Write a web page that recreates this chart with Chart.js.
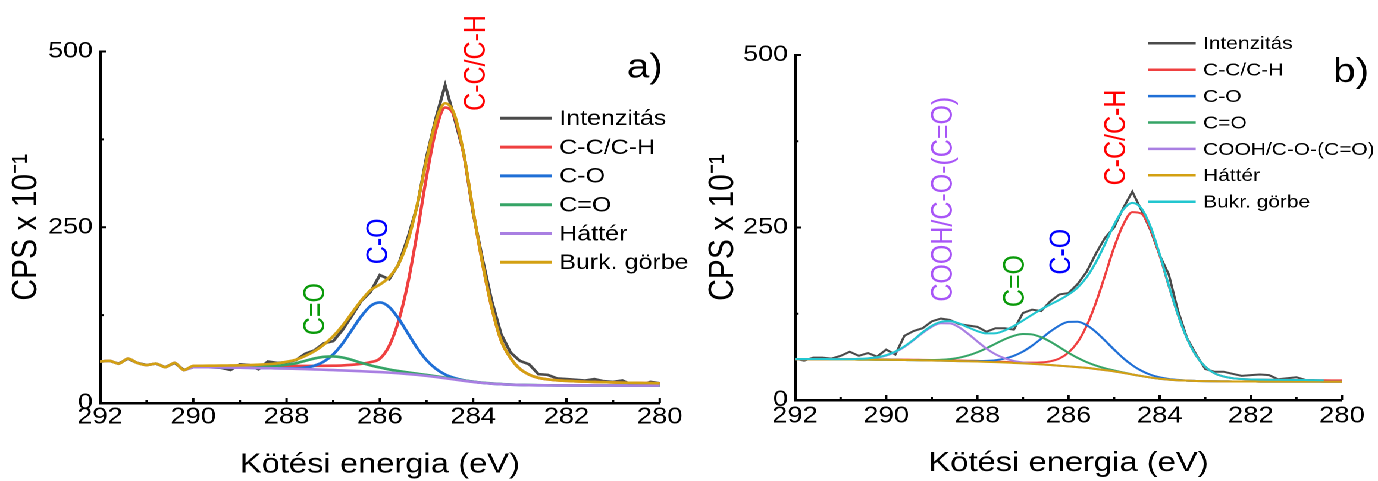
<!DOCTYPE html>
<html>
<head>
<meta charset="utf-8">
<script src="https://cdn.jsdelivr.net/npm/chart.js@4.4.1/dist/chart.umd.min.js"></script>
<style>
  html, body { margin: 0; padding: 0; background: #fff; overflow: hidden; }
  /* the reference figure is stretched sideways, so the whole stage is too */
  #stage { position: absolute; left: 0; top: 0; width: 1158px; height: 481px; transform: scaleX(1.19); transform-origin: 0 0; }
  .panel { position: absolute; top: 0; width: 579px; height: 481px; }
  #pa { left: 0; }
  #pb { left: 579px; }
</style>
</head>
<body>
<div id="stage">
  <div class="panel" id="pa"><canvas id="chartA"></canvas></div>
  <div class="panel" id="pb"><canvas id="chartB"></canvas></div>
</div>
<script>
// ========== データ ==========
const energy = [
  292.0, 291.8, 291.6, 291.4, 291.2, 291.0, 290.8, 290.6, 290.4, 290.2,
  290.0, 289.8, 289.6, 289.4, 289.2, 289.0, 288.8, 288.6, 288.4, 288.2,
  288.0, 287.8, 287.6, 287.4, 287.2, 287.0, 286.8, 286.6, 286.4, 286.2,
  286.0, 285.8, 285.6, 285.4, 285.2, 285.0, 284.8, 284.6, 284.4, 284.2,
  284.0, 283.8, 283.6, 283.4, 283.2, 283.0, 282.8, 282.6, 282.4, 282.2,
  282.0, 281.8, 281.6, 281.4, 281.2, 281.0, 280.8, 280.6, 280.4, 280.2,
  280.0
];
const xTicks = [292, 290, 288, 286, 284, 282, 280];
const xMinor = [291, 289, 287, 285, 283, 281];
const yTicks = [0, 250, 500];
const yMinor = [125, 375];

// --- a) panel ---
const intensityA = [
  59, 60, 56, 63, 57, 54, 56, 51, 57, 47,
  51, 52, 51, 50, 47, 55, 54, 48, 59, 57,
  58, 61, 70, 75, 85, 88, 104, 124, 145, 158,
  182, 176, 197, 235, 280, 350, 405, 452, 405, 355,
  270, 205, 145, 98, 72, 60, 55, 41, 40, 35,
  34, 33, 32, 34, 31, 30, 32, 26, 25, 30,
  28
];
const ccA = [
  null, null, null, null, null, null, null, null, null, null,
  52.5, 52.6, 52.6, 52.6, 52.6, 52.6, 52.6, 52.7, 52.8, 52.8,
  52.8, 52.8, 52.8, 52.8, 52.9, 53.1, 53.5, 54.3, 55.7, 58.1,
  63, 81.2, 116.3, 170.2, 242, 321.6, 388, 420.2, 407.4, 352.6,
  273, 198.6, 135.5, 88.7, 64.1, 48.7, 40.4, 35.7, 33.6, 32.3,
  31.5, 30.9, 30.4, 29.9, 29.6, 29.3, 28.9, 28.7, 28.5, 28.3,
  28
];
const coA = [
  null, null, null, null, null, null, null, null, null, null,
  51, 51, 50.8, 50.6, 50.4, 50.2, 50, 49.8, 49.6, 49.4,
  49.3, 49.4, 50.4, 53.2, 59, 69.2, 84.5, 103.8, 123.2, 137.9,
  143, 136.5, 120.3, 99.2, 78.2, 61, 48.7, 40.6, 35.6, 32.4,
  30.3, 28.6, 27.5, 26.7, 26.1, 25.7, 25.4, 25.2, 25.1, 25,
  25, 25, 25, 24.9, 24.9, 24.9, 24.8, 24.8, 24.8, 24.8,
  24.7
];
const c2oA = [
  null, null, null, null, null, null, null, null, null, null,
  51.3, 51.4, 51.3, 51.2, 51.2, 51.2, 51.3, 51.6, 52.1, 52.8,
  54.5, 56.6, 60, 63.4, 65.7, 66.3, 64.7, 61.4, 57.2, 53.6,
  50.5, 47.7, 45.5, 43.5, 41.7, 39.9, 38, 36, 34, 32.1,
  30.4, 28.9, 27.8, 26.9, 26.3, 25.8, 25.5, 25.3, 25.2, 25.1,
  25.1, 25, 25, 24.9, 24.9, 24.9, 24.8, 24.8, 24.8, 24.8,
  24.7
];
const bgA = [
  59, 60, 56, 63, 57, 54, 56, 51, 57, 47,
  51, 51, 50.8, 50.6, 50.4, 50.2, 50, 49.8, 49.6, 49.3,
  49, 48.6, 48.2, 47.8, 47.3, 46.8, 46.3, 45.8, 45.2, 44.6,
  44, 43.2, 42.3, 41.2, 40, 38.6, 37, 35.2, 33.4, 31.6,
  30, 28.6, 27.5, 26.7, 26.1, 25.7, 25.4, 25.2, 25.1, 25,
  25, 25, 25, 24.9, 24.9, 24.9, 24.8, 24.8, 24.8, 24.8,
  24.7
];
const envA = [
  59, 60, 56, 63, 57, 54, 56, 51, 57, 47,
  52.8, 53, 53.1, 53.2, 53.4, 53.6, 53.9, 54.5, 55.3, 56.4,
  58.6, 61.6, 66.8, 73.8, 83, 95, 110.1, 127.9, 145.7, 160.4,
  168.5, 179, 197.5, 230.5, 281.9, 345.3, 400.7, 426.4, 410.2, 353.9,
  273.7, 198.9, 135.7, 88.8, 64.1, 48.7, 40.4, 35.7, 33.6, 32.3,
  31.5, 30.9, 30.4, 29.9, 29.6, 29.3, 28.9, 28.7, 28.5, 28.3,
  28
];

// --- b) panel ---
const intensityB = [
  60, 57, 61.5, 61.5, 60, 64, 70, 64, 68, 63,
  73, 66, 93, 100, 104, 114, 118, 116, 110, 108,
  106, 99, 104, 104, 102, 126, 131, 129, 143, 153,
  155, 168, 186, 212, 235, 250, 278, 302, 275, 246,
  210, 182, 130, 90, 66, 45, 41, 41, 38, 35,
  36, 37, 36, 30, 31.5, 33, 29, 29, null, null,
  null
];
const ccB = [
  59.5, 59.5, 59.4, 59.4, 59.3, 59.3, 59.3, 59.2, 59.1, 59.0,
  58.9, 58.7, 58.5, 58.3, 58.2, 58.0, 57.7, 57.4, 57.2, 56.9,
  56.7, 56.2, 55.7, 55.2, 54.7, 54.2, 54.1, 54.5, 56.1, 60.1,
  68.7, 83.8, 107.8, 140.9, 180.4, 221.1, 253.9, 272.3, 270.0, 247.1,
  209.4, 165.2, 123.6, 89.4, 64.3, 48.3, 38.9, 34.1, 31.6, 30.4,
  29.8, 29.6, 29.4, 29.3, 29.1, 29.0, 28.9, 28.8, 28.6, 28.5,
  28.4
];
const coB = [
  59.0, 59.0, 58.9, 58.9, 58.8, 58.8, 58.7, 58.6, 58.5, 58.4,
  58.3, 58.1, 57.9, 57.7, 57.5, 57.3, 57.0, 56.7, 56.4, 56.3,
  56.4, 56.7, 57.7, 60.0, 64.0, 70.2, 78.7, 88.8, 99.2, 107.9,
  113.2, 113.4, 108.4, 98.7, 86.2, 73.1, 60.7, 50.4, 42.4, 36.6,
  32.8, 30.5, 29.1, 28.1, 27.6, 27.3, 27.1, 27.0, 26.9, 26.8,
  26.8, 26.7, 26.7, 26.7, 26.6, 26.6, 26.6, 26.6, 26.5, 26.5,
  26.5
];
const c2oB = [
  59.0, 59.0, 58.9, 58.9, 58.8, 58.8, 58.7, 58.6, 58.5, 58.4,
  58.3, 58.1, 57.9, 57.7, 57.8, 57.9, 58.3, 59.3, 61.3, 64.5,
  69.2, 75.0, 81.6, 88.1, 93.1, 95.7, 95.0, 91.0, 84.5, 76.5,
  68.4, 61.0, 54.9, 49.9, 45.9, 42.8, 39.9, 37.0, 34.7, 32.5,
  30.8, 29.6, 28.7, 28.1, 27.6, 27.3, 27.1, 27.0, 26.9, 26.8,
  26.8, 26.7, 26.7, 26.7, 26.6, 26.6, 26.6, 26.6, 26.5, 26.5,
  26.5
];
const coohB = [
  59.0, 59.0, 58.9, 58.9, 58.8, 58.8, 58.7, 59.1, 59.8, 61.3,
  64.4, 69.5, 77.1, 86.8, 97.2, 106.2, 111.3, 111.0, 105.3, 95.8,
  84.9, 74.5, 66.2, 60.4, 56.6, 54.4, 52.9, 51.8, 50.7, 49.7,
  48.7, 47.6, 46.5, 45.0, 43.3, 41.5, 39.3, 37.0, 34.7, 32.5,
  30.8, 29.6, 28.7, 28.1, 27.6, 27.3, 27.1, 27.0, 26.9, 26.8,
  26.8, 26.7, 26.7, 26.7, 26.6, 26.6, 26.6, 26.6, 26.5, 26.5,
  26.5
];
const bgB = [
  59.0, 59.0, 58.9, 58.9, 58.8, 58.8, 58.7, 58.6, 58.5, 58.4,
  58.3, 58.1, 57.9, 57.7, 57.5, 57.3, 57.0, 56.7, 56.4, 56.1,
  55.8, 55.3, 54.8, 54.3, 53.7, 53.1, 52.4, 51.6, 50.7, 49.7,
  48.7, 47.6, 46.5, 45.0, 43.3, 41.5, 39.3, 37.0, 34.7, 32.5,
  30.8, 29.6, 28.7, 28.1, 27.6, 27.3, 27.1, 27.0, 26.9, 26.8,
  26.8, 26.7, 26.7, 26.7, 26.6, 26.6, 26.6, 26.6, 26.5, 26.5,
  26.5
];
const envB = [
  59.5, 59.5, 59.4, 59.4, 59.3, 59.3, 59.3, 59.7, 60.4, 61.9,
  65.0, 70.1, 77.7, 87.4, 98.2, 107.5, 113.3, 114.3, 111.0, 105.2,
  99.8, 96.5, 96.8, 100.8, 107.3, 115.2, 123.5, 131.3, 138.4, 145.1,
  152.9, 163.0, 178.1, 199.5, 225.9, 254.0, 275.9, 285.7, 277.7, 251.2,
  211.4, 166.1, 124.0, 89.4, 64.3, 48.3, 38.9, 34.1, 31.6, 30.4,
  29.8, 29.6, 29.4, 29.3, 29.1, 29.0, 28.9, 28.8, 28.6, null,
  null
];

// ========== 共通設定 ==========
const FONT = "'Liberation Sans', Arial, sans-serif";
const C = {
  gray: '#4a4a4a', red: '#ef4040', blue: '#1f6fd6', green: '#35a466',
  purple: '#a97fe2', gold: '#d3a012', cyan: '#22c6cf'
};

function series(values) {
  return values.map((v, i) => ({ x: energy[i], y: v }));
}

function line(label, values, color, width, order, smooth) {
  return {
    label, data: series(values), borderColor: color, backgroundColor: color,
    borderWidth: width, pointRadius: 0, fill: false, order, tension: 0,
    cubicInterpolationMode: smooth ? 'monotone' : 'default',
  };
}

function makePanel(canvasId, spec) {
  const extras = {
    id: 'extras',
    afterDraw(chart) {
      const { ctx, chartArea: a, scales: { x, y } } = chart;
      ctx.save();

      // inward tick marks
      ctx.strokeStyle = '#000';
      ctx.lineWidth = 2;
      const tick = (x1, y1, x2, y2) => { ctx.beginPath(); ctx.moveTo(x1, y1); ctx.lineTo(x2, y2); ctx.stroke(); };
      xTicks.forEach(v => { const p = x.getPixelForValue(v); tick(p, a.bottom, p, a.bottom - 5); });
      xMinor.forEach(v => { const p = x.getPixelForValue(v); tick(p, a.bottom, p, a.bottom - 3); });
      yTicks.forEach(v => { const p = y.getPixelForValue(v); tick(a.left, p, a.left + 5, p); });
      yMinor.forEach(v => { const p = y.getPixelForValue(v); tick(a.left, p, a.left + 3, p); });

      // rotated peak names
      ctx.font = `25px ${FONT}`;
      ctx.textAlign = 'center';
      ctx.textBaseline = 'middle';
      spec.peaks.forEach(pk => {
        ctx.save();
        ctx.translate(x.getPixelForValue(pk.at[0]), y.getPixelForValue(pk.at[1]));
        ctx.rotate(-Math.PI / 2);
        ctx.fillStyle = pk.color;
        ctx.fillText(pk.text, 0, 0);
        ctx.restore();
      });

      // panel tag
      ctx.fillStyle = '#000';
      ctx.font = `34px ${FONT}`;
      ctx.fillText(spec.tag.text, x.getPixelForValue(spec.tag.at[0]), y.getPixelForValue(spec.tag.at[1]));

      // legend
      const L = spec.legend;
      ctx.font = `${L.size}px ${FONT}`;
      ctx.textAlign = 'left';
      chart.data.datasets.forEach((ds, i) => {
        const yy = L.y0 + i * L.dy;
        ctx.strokeStyle = ds.borderColor;
        ctx.lineWidth = L.lw;
        tick(L.x0, yy, L.x1, yy);
        ctx.fillStyle = '#000';
        ctx.fillText(ds.label, L.tx, yy + 1);
      });
      ctx.restore();
    }
  };

  return new Chart(document.getElementById(canvasId), {
    type: 'line',
    data: { datasets: spec.datasets },
    options: {
      responsive: true,
      maintainAspectRatio: false,
      devicePixelRatio: 2,
      animation: false,
      events: [],
      layout: { padding: { left: 0, top: spec.top, right: spec.right, bottom: 0 } },
      plugins: { legend: { display: false }, tooltip: { enabled: false } },
      scales: {
        x: {
          type: 'linear', min: 280, max: 292, reverse: true,
          afterBuildTicks: s => { s.ticks = xTicks.map(v => ({ value: v })); },
          afterFit: s => { s.height = spec.xHeight; },
          grid: { drawOnChartArea: false, drawTicks: false },
          border: { display: true, color: '#000', width: 2.5 },
          ticks: { color: '#000', font: { family: FONT, size: 23, lineHeight: 1 }, padding: spec.xTickPad, maxRotation: 0, autoSkip: false },
          title: { display: true, text: 'Kötési energia (eV)', color: '#000', font: { family: FONT, size: 27.5, lineHeight: 0.8 }, padding: { top: 0, bottom: spec.xTitlePad } },
        },
        y: {
          type: 'linear', min: 0, max: 500,
          afterBuildTicks: s => { s.ticks = yTicks.map(v => ({ value: v })); },
          afterFit: s => { s.width = spec.yWidth; },
          grid: { drawOnChartArea: false, drawTicks: false },
          border: { display: true, color: '#000', width: 2.5 },
          ticks: { color: '#000', font: { family: FONT, size: 22.5, lineHeight: 1 }, padding: 6 },
          title: { display: true, text: 'CPS x 10⁻¹', color: '#000', font: { family: FONT, size: 30, lineHeight: 1 }, padding: { top: spec.yTitlePad, bottom: 0 } },
        },
      },
    },
    plugins: [extras],
  });
}

// ========== 描画 ==========
makePanel('chartA', {
  top: 51.5, right: 24.6, xHeight: 78, yWidth: 84,
  xTickPad: 2.5, xTitlePad: 5, yTitlePad: 7,
  datasets: [
    line('Intenzitás', intensityA, C.gray, 2.6, 6, false),
    line('C-C/C-H', ccA, C.red, 2.6, 5, true),
    line('C-O', coA, C.blue, 2.6, 4, true),
    line('C=O', c2oA, C.green, 2.6, 3, true),
    line('Háttér', bgA, C.purple, 2.6, 2, true),
    line('Burk. görbe', envA, C.gold, 2.6, 1, true),
  ],
  legend: { x0: 420, x1: 464, tx: 470, y0: 118.3, dy: 28.8, size: 21, lw: 3 },
  peaks: [
    { text: 'C-C/C-H', color: '#ff0000', at: [283.92, 483.7] },
    { text: 'C-O', color: '#0000ff', at: [286.02, 230] },
    { text: 'C=O', color: '#0a9a0a', at: [287.37, 133.5] },
  ],
  tag: { text: 'a)', at: [280.32, 476] },
});

makePanel('chartB', {
  top: 55, right: 30.3, xHeight: 81, yWidth: 89.1,
  xTickPad: 4.7, xTitlePad: 6.6, yTitlePad: 13.6,
  datasets: [
    line('Intenzitás', intensityB, C.gray, 2, 7, false),
    line('C-C/C-H', ccB, C.red, 2, 6, true),
    line('C-O', coB, C.blue, 2, 5, true),
    line('C=O', c2oB, C.green, 2, 4, true),
    line('COOH/C-O-(C=O)', coohB, C.purple, 2, 3, true),
    line('Háttér', bgB, C.gold, 2, 2, true),
    line('Bukr. görbe', envB, C.cyan, 2, 1, true),
  ],
  legend: { x0: 385.7, x1: 425.8, tx: 432, y0: 43.3, dy: 26.4, size: 17.6, lw: 2.5 },
  peaks: [
    { text: 'COOH/C-O-(C=O)', color: '#a855f7', at: [288.73, 291] },
    { text: 'C=O', color: '#0a9a0a', at: [287.15, 172.4] },
    { text: 'C-O', color: '#0000ff', at: [286.14, 214.9] },
    { text: 'C-C/C-H', color: '#ff0000', at: [284.94, 380.4] },
  ],
  tag: { text: 'b)', at: [279.8, 474.5] },
});
</script>
</body>
</html>
